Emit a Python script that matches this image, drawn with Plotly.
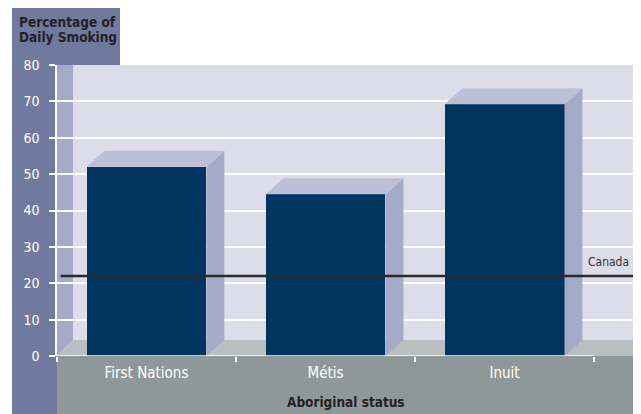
"""Daily smoking by Aboriginal status: pseudo-3D bar chart (Plotly)."""
import plotly.graph_objects as go

categories = ["First Nations", "Métis", "Inuit"]
daily_smoking = [52.0, 44.5, 69.2]
canada_rate = 22.0
y_ticks = [0, 10, 20, 30, 40, 50, 60, 70, 80]

# page offset of the plot div (body margin), figure size and margins
OFF = 8
W, H = 641, 414
L, R, T, B = 49, 0, 57, 66
X_RANGE = [-0.5, 2.807]
BAR_W = 0.67
DEPTH_X = 0.1   # depth of the 3D faces, category units
DEPTH_Y = 4.4   # depth of the 3D faces, value units

BAND = "#6f7a9e"
WALL = "#dcdde8"
SIDE_WALL = "#a4aac7"
FLOOR = "#b9bebf"
BOTTOM = "#8f9898"
BAR = "#00355f"
BAR_TOP = "#bcc0d6"
BAR_SIDE = "#a4aac7"
FONT = "Liberation Sans Narrow, DejaVu Sans Condensed, Liberation Sans, sans-serif"


def px(x):
    """page pixel x -> paper x"""
    return (x - OFF - L) / (W - L - R)


def py(y):
    """page pixel y -> paper y"""
    return (H - B - (y - OFF)) / (H - T - B)


def rect(x0, y0, x1, y1, color, layer="below"):
    return dict(type="rect", xref="paper", yref="paper",
                x0=px(x0), x1=px(x1), y0=py(y0), y1=py(y1),
                fillcolor=color, line_width=0, layer=layer)


def poly(points, color, layer="below"):
    path = "M " + " L ".join(f"{px(x)},{py(y)}" for x, y in points) + " Z"
    return dict(type="path", xref="paper", yref="paper", path=path,
                fillcolor=color, line_width=0, layer=layer)


fig = go.Figure()

# 3D side and top faces of the bars
side_x, side_y, top_x, top_y = [], [], [], []
for i, v in enumerate(daily_smoking):
    x0, x1 = i - BAR_W / 2, i + BAR_W / 2
    side_x += [x1, x1 + DEPTH_X, x1 + DEPTH_X, x1, x1, None]
    side_y += [0, DEPTH_Y, v + DEPTH_Y, v, 0, None]
    top_x += [x0, x0 + DEPTH_X, x1 + DEPTH_X, x1, x0, None]
    top_y += [v, v + DEPTH_Y, v + DEPTH_Y, v, v, None]

fig.add_trace(go.Scatter(x=side_x, y=side_y, mode="lines", fill="toself",
                         fillcolor=BAR_SIDE, line=dict(width=0), hoverinfo="skip"))
fig.add_trace(go.Scatter(x=top_x, y=top_y, mode="lines", fill="toself",
                         fillcolor=BAR_TOP, line=dict(width=0), hoverinfo="skip"))
fig.add_trace(go.Bar(x=list(range(len(categories))), y=daily_smoking, width=BAR_W,
                     marker=dict(color=BAR, line_width=0)))

# Canada reference line
fig.add_trace(go.Scatter(x=[X_RANGE[0] + 0.02, X_RANGE[1]], y=[canada_rate] * 2,
                         mode="lines", line=dict(color="#2a2a2a", width=2.5),
                         hoverinfo="skip"))

shapes = [
    rect(12, 7, 120, 65, BAND),
    rect(12, 7, 57, 430, BAND),
    rect(57, 356, 660, 430, BOTTOM),
    poly([(57, 356), (57, 65), (73, 65), (73, 340)], SIDE_WALL),
    poly([(57, 356), (73, 340), (660, 340), (660, 356)], FLOOR, layer="between"),
    dict(type="line", xref="x", yref="y", x0=-0.5, x1=2.5, y0=0, y1=0,
         line=dict(color="white", width=1.5), layer="above"),
]

title_font = dict(size=13.5, color="#222222", family=FONT)
annotations = [
    dict(text="<b>Percentage of</b>", x=px(17), y=py(21.5), xanchor="left", yanchor="middle",
         font=title_font),
    dict(text="<b>Daily Smoking</b>", x=px(17), y=py(37), xanchor="left", yanchor="middle",
         font=title_font),
    dict(text="<b>Aboriginal status</b>", x=px(346), y=py(402), xanchor="center",
         yanchor="middle", font=title_font),
    dict(text="Canada", x=px(631), y=py(262), xanchor="right", yanchor="middle",
         font=dict(size=12, color="#333333", family=FONT)),
]
for a in annotations:
    a.update(xref="paper", yref="paper", showarrow=False)

fig.update_layout(
    width=W, height=H, autosize=False,
    margin=dict(l=L, r=R, t=T, b=B, pad=0),
    paper_bgcolor="white", plot_bgcolor=WALL,
    showlegend=False, bargap=0,
    shapes=shapes, annotations=annotations,
    font=dict(family=FONT),
)
fig.update_xaxes(
    range=X_RANGE, tickvals=list(range(len(categories))), ticktext=categories,
    ticks="", showgrid=False, zeroline=False, showline=False,
    tickfont=dict(size=15, color="white", family=FONT), ticklabelstandoff=6,
    minor=dict(tickvals=[-0.5, 0.5, 1.5, 2.5], ticks="outside", ticklen=5,
               tickcolor="white", tickwidth=1.5, showgrid=False),
)
fig.update_yaxes(
    range=[0, 80], tickvals=y_ticks, ticks="outside", ticklen=6,
    tickcolor="white", tickwidth=1.5, showline=True, linecolor="white", linewidth=1.5,
    showgrid=True, gridcolor="white", gridwidth=1.5, zeroline=False,
    tickfont=dict(size=14, color="white", family=FONT), ticklabelstandoff=7,
)

fig.write_html("out.html")
